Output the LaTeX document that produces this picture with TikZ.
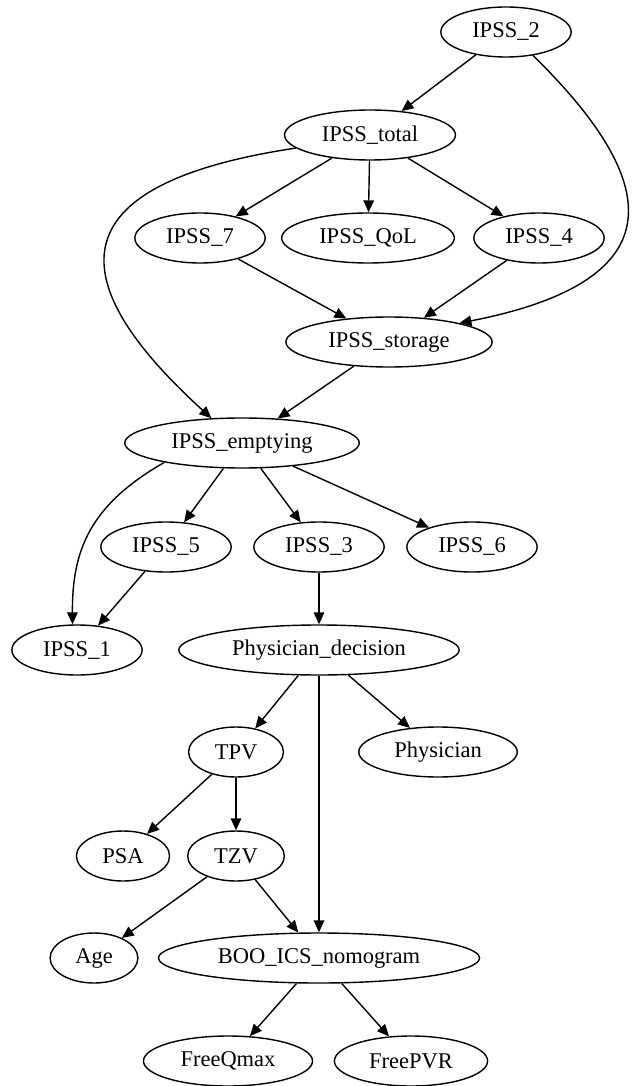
\documentclass[tikz,border=0pt]{standalone}
\usepackage{fontspec}
\setmainfont{Liberation Serif}
\usetikzlibrary{shapes, arrows.meta, positioning}

\tikzset{
  var/.style={draw, ellipse, line width=0.8pt, minimum height=1cm, inner xsep=7pt, inner ysep=2pt, font=\fontsize{12.8}{14}\selectfont},
  dep/.style={line width=0.8pt, -{Triangle[length=6.8pt,width=6pt]}}
}

\begin{document}
\begin{tikzpicture}
    \useasboundingbox (0,0) rectangle (12.68,-21.72);
    % IPSS items
    \node[var] (ipss2) at (10.12,-0.64) {IPSS\_2};
    \node[var] (total) at (7.40,-2.70) {IPSS\_total};
    \node[var] (ipss7) at (4.00,-4.76) {IPSS\_7};
    \node[var] (qol) at (7.36,-4.76) {IPSS\_QoL};
    \node[var] (ipss4) at (10.78,-4.76) {IPSS\_4};
    \node[var] (storage) at (7.78,-6.84) {IPSS\_storage};
    \node[var] (emptying) at (4.84,-8.86) {IPSS\_emptying};
    \node[var] (ipss5) at (3.32,-10.94) {IPSS\_5};
    \node[var] (ipss3) at (6.38,-10.94) {IPSS\_3};
    \node[var] (ipss6) at (9.44,-10.94) {IPSS\_6};
    \node[var] (ipss1) at (1.54,-13.00) {IPSS\_1};
    % clinical variables
    \node[var] (decision) at (6.38,-13.00) {Physician\_decision};
    \node[var] (tpv) at (4.72,-15.04) {TPV};
    \node[var] (physician) at (8.76,-15.04) {Physician};
    \node[var] (psa) at (2.46,-17.12) {PSA};
    \node[var] (tzv) at (4.72,-17.12) {TZV};
    \node[var] (age) at (1.88,-19.16) {Age};
    \node[var] (boo) at (6.38,-19.16) {BOO\_ICS\_nomogram};
    \node[var] (qmax) at (4.56,-21.22) {FreeQmax};
    \node[var] (pvr) at (8.22,-21.22) {FreePVR};

    % edges
    \draw[dep] (ipss2) -- (total);
    \draw[dep] (ipss2.-41) .. controls (13.2,-3.6) and (13.6,-5.6) .. (storage.15);
    \draw[dep] (total) -- (ipss7);
    \draw[dep] (total) -- (qol);
    \draw[dep] (total) -- (ipss4);
    \draw[dep] (total.190) .. controls (1.0,-3.7) and (1.3,-5.7) .. (emptying.141);
    \draw[dep] (ipss7) -- (storage);
    \draw[dep] (ipss4) -- (storage);
    \draw[dep] (storage) -- (emptying);
    \draw[dep] (emptying.194) .. controls (1.8,-10.1) and (1.44,-11.0) .. (ipss1.100);
    \draw[dep] (emptying) -- (ipss5);
    \draw[dep] (emptying) -- (ipss3);
    \draw[dep] (emptying) -- (ipss6);
    \draw[dep] (ipss5) -- (ipss1);
    \draw[dep] (ipss3) -- (decision);
    \draw[dep] (decision) -- (tpv);
    \draw[dep] (decision) -- (physician);
    \draw[dep] (decision) -- (boo);
    \draw[dep] (tpv) -- (psa);
    \draw[dep] (tpv) -- (tzv);
    \draw[dep] (tzv) -- (age);
    \draw[dep] (tzv) -- (boo);
    \draw[dep] (boo) -- (qmax);
    \draw[dep] (boo) -- (pvr);
\end{tikzpicture}
\end{document}
